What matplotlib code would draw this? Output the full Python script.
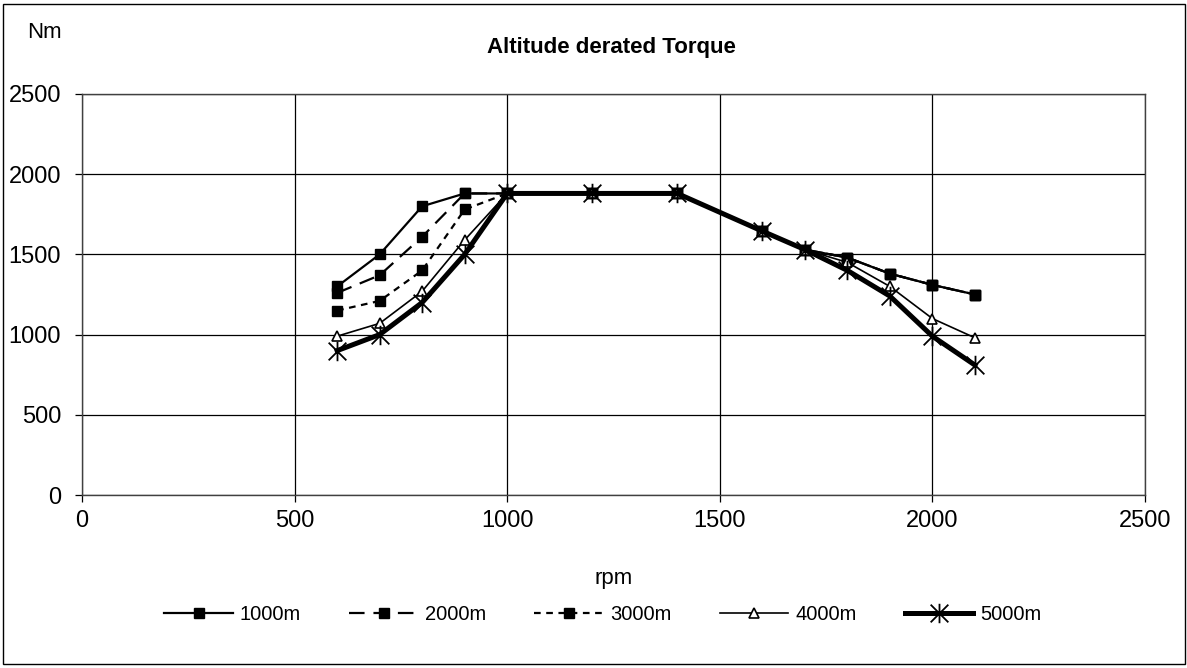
import matplotlib
matplotlib.use("Agg")
import matplotlib.pyplot as plt
from matplotlib.path import Path
from matplotlib.patches import Rectangle

plt.rcParams["font.family"] = ["Liberation Sans", "DejaVu Sans"]

rpm = [600, 700, 800, 900, 1000, 1200, 1400, 1600, 1700, 1800, 1900, 2000, 2100]
torque_1000 = [1300, 1500, 1800, 1880, 1880, 1880, 1880, 1645, 1530, 1480, 1380, 1310, 1250]
torque_2000 = [1260, 1370, 1610, 1880, 1880, 1880, 1880, 1645, 1530, 1480, 1380, 1310, 1250]
torque_3000 = [1150, 1210, 1400, 1780, 1880, 1880, 1880, 1645, 1530, 1480, 1380, 1310, 1250]
torque_4000 = [990, 1070, 1270, 1590, 1880, 1880, 1880, 1645, 1530, 1450, 1300, 1100, 980]
torque_5000 = [900, 1000, 1200, 1500, 1880, 1880, 1880, 1645, 1530, 1400, 1240, 990, 810]
labels = ["1000m", "2000m", "3000m", "4000m", "5000m"]

# Excel style star: X plus vertical bar
star = Path([(-1, -1), (1, 1), (-1, 1), (1, -1), (0, -1.1), (0, 1.1)],
            [Path.MOVETO, Path.LINETO, Path.MOVETO, Path.LINETO, Path.MOVETO, Path.LINETO])

fig = plt.figure(figsize=(11.87, 6.68), dpi=100)
ax = fig.add_axes([82 / 1187, 1 - 495 / 668, (1145 - 82) / 1187, (495 - 94) / 668])

ax.plot(rpm, torque_1000, color="black", lw=1.6, marker="s", ms=7, label=labels[0])
ax.plot(rpm, torque_2000, color="black", lw=1.6, ls=(0, (7, 4)), marker="s", ms=7, label=labels[1])
ax.plot(rpm, torque_3000, color="black", lw=1.6, ls=(0, (3, 2.5)), marker="s", ms=7, label=labels[2])
ax.plot(rpm, torque_4000, color="black", lw=1.2, marker="^", ms=7, mfc="white", mec="black",
        mew=1.2, label=labels[3])
ax.plot(rpm, torque_5000, color="black", lw=3.6, marker=star, ms=14, mfc="none", mec="black",
        mew=1.3, label=labels[4])

ax.set_xlim(0, 2500)
ax.set_ylim(0, 2500)
ax.set_xticks(range(0, 2501, 500))
ax.set_yticks(range(0, 2501, 500))
ax.grid(True, color="black", lw=0.9)
ax.set_axisbelow(True)
for s in ax.spines.values():
    s.set_color("#404040")
    s.set_linewidth(1.0)
ax.tick_params(labelsize=17, length=5, width=0.9, color="black")
ax.tick_params(axis="x", pad=6)
ax.tick_params(axis="y", pad=10)

ax.set_xlabel("rpm", fontsize=16, labelpad=26)
fig.text(27 / 1187, 1 - 33 / 668, "Nm", fontsize=16, va="center", ha="left")
fig.text(0.5154, 1 - 48 / 668, "Altitude derated Torque", fontsize=16, fontweight="bold",
         ha="center", va="center")

fig.legend(loc="center", bbox_to_anchor=(603 / 1187, 1 - 615 / 668), ncol=5, frameon=False,
           fontsize=14.5, handlelength=3.4, handletextpad=0.35, columnspacing=2.4)

fig.patches.append(Rectangle((3 / 1187, 4 / 668), 1182 / 1187, 660 / 668, transform=fig.transFigure,
                             fill=False, edgecolor="black", lw=1.0))

fig.savefig("out.png", dpi=100)
